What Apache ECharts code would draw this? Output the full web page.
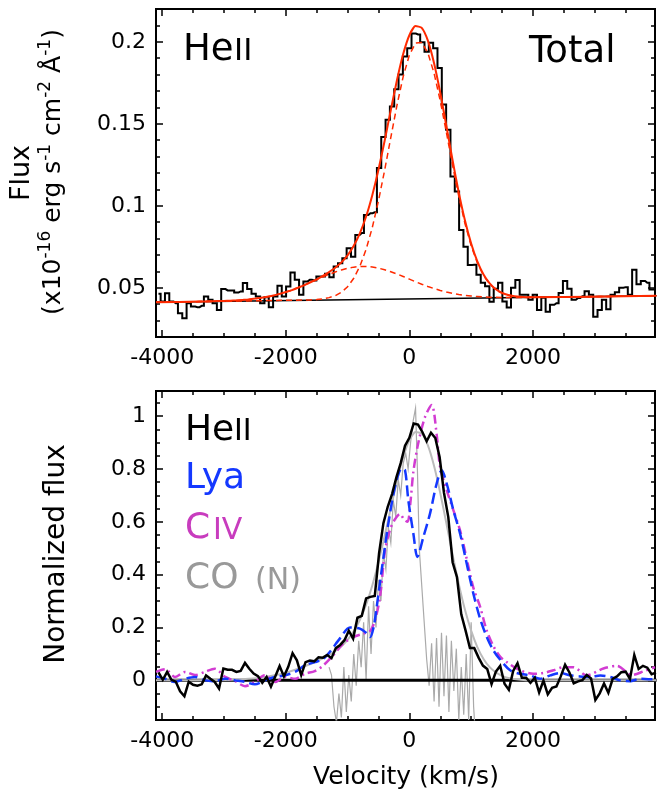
<!DOCTYPE html>
<html><head><meta charset="utf-8">
<script src="https://cdn.jsdelivr.net/npm/echarts@6/dist/echarts.min.js"></script>
<style>html,body{margin:0;padding:0;background:#fff}#c{width:657px;height:796px}</style>
</head><body><div id="c"></div>
<script>
// ---------- data (velocity in km/s) ----------
const heVel = [-4060,-3990,-3920,-3850,-3780,-3710,-3640,-3570,-3500,-3430,-3360,-3290,-3220,-3150,-3080,-3010,-2940,-2870,-2800,-2730,-2660,-2590,-2520,-2450,-2380,-2310,-2240,-2170,-2100,-2030,-1960,-1890,-1820,-1750,-1680,-1610,-1540,-1470,-1400,-1330,-1260,-1190,-1120,-1050,-980,-910,-840,-770,-700,-630,-560,-490,-420,-350,-280,-210,-140,-70,0,70,140,210,280,350,420,490,560,630,700,770,840,910,980,1050,1120,1190,1260,1330,1400,1470,1540,1610,1680,1750,1820,1890,1960,2030,2100,2170,2240,2310,2380,2450,2520,2590,2660,2730,2800,2870,2940,3010,3080,3150,3220,3290,3360,3430,3500,3570,3640,3710,3780,3850,3920,3990];
const heFlux = [0.0463,0.0416,0.0467,0.0416,0.0406,0.0345,0.0315,0.0406,0.0386,0.0382,
0.0390,0.0447,0.0427,0.0406,0.0365,0.0492,0.0484,0.0484,0.0471,0.0478,
0.0529,0.0492,0.0463,0.0447,0.0406,0.0443,0.0382,0.0447,0.0512,0.0447,
0.0508,0.0594,0.0549,0.0457,0.0539,0.0549,0.0545,0.0569,0.0569,0.0586,
0.0565,0.0630,0.0650,0.0680,0.0741,0.0690,0.0822,0.0834,0.0944,0.0955,
0.0960,0.1230,0.1420,0.1525,0.1605,0.1710,0.1800,0.1910,0.1960,0.2050,
0.2045,0.1998,0.1940,0.1994,0.1960,0.1840,0.1617,0.1464,0.1179,0.1087,
0.0853,0.0750,0.0639,0.0640,0.0580,0.0531,0.0510,0.0415,0.0494,0.0531,
0.0417,0.0380,0.0500,0.0548,0.0458,0.0458,0.0427,0.0458,0.0365,0.0440,
0.0354,0.0396,0.0406,0.0469,0.0542,0.0494,0.0427,0.0438,0.0448,0.0479,
0.0458,0.0323,0.0365,0.0427,0.0369,0.0458,0.0473,0.0500,0.0504,0.0458,
0.0610,0.0521,0.0542,0.0531,0.0490,0.0500];
const heNorm = [0.030,0.002,0.032,0.002,-0.005,-0.041,-0.060,-0.005,-0.017,-0.020,
-0.015,0.019,0.006,-0.006,-0.031,0.045,0.040,0.040,0.032,0.036,
0.066,0.044,0.026,0.016,-0.009,0.013,-0.024,0.015,0.054,0.015,
0.051,0.103,0.076,0.020,0.069,0.075,0.072,0.087,0.086,0.096,
0.084,0.122,0.134,0.152,0.188,0.158,0.237,0.244,0.310,0.316,
0.319,0.481,0.595,0.657,0.705,0.768,0.822,0.888,0.918,0.972,
0.968,0.940,0.905,0.937,0.917,0.844,0.710,0.618,0.447,0.391,
0.250,0.188,0.122,0.122,0.086,0.056,0.043,-0.014,0.033,0.055,
-0.013,-0.036,0.036,0.065,0.010,0.010,-0.009,0.010,-0.046,-0.001,
-0.053,-0.028,-0.023,0.015,0.059,0.030,-0.011,-0.004,0.001,0.020,
0.007,-0.074,-0.049,-0.012,-0.047,0.006,0.015,0.031,0.033,0.005,
0.096,0.043,0.055,0.048,0.023,0.029];

const contVel = [-4100, 4000];
const contFlux = [0.0412, 0.0451];

const narrowVel = [-4100,-1600,-1500,-1400,-1300,-1200,-1100,-1000,-900,-800,-700,-600,-500,-400,-300,-200,-100,0,100,200,300,400,500,600,700,800,900,1000,1100,1200,1300,1400,1500,1600,1700,1800,1900,2000,4000];
const narrowFlux = [0.0412,0.0426,0.0428,0.0432,0.0440,0.0452,0.0473,0.0506,0.0558,0.0632,0.0734,0.0867,0.1030,0.1217,0.1417,0.1614,0.1788,0.1919,0.1992,0.1996,0.1932,0.1808,0.1640,0.1446,0.1246,0.1057,0.0892,0.0756,0.0652,0.0575,0.0523,0.0488,0.0467,0.0455,0.0448,0.0444,0.0443,0.0442,0.0451];

const broadVel = [-4100,-3400,-3200,-3000,-2900,-2800,-2700,-2600,-2500,-2400,-2300,-2200,-2100,-2000,-1900,-1800,-1700,-1600,-1500,-1400,-1300,-1200,-1100,-1000,-900,-800,-700,-600,-500,-400,-300,-200,-100,0,100,200,300,400,500,600,700,800,900,1000,1100,1200,1300,1400,1600,1800,4000];
const broadFlux = [0.0412,0.0416,0.0418,0.0420,0.0421,0.0423,0.0426,0.0429,0.0434,0.0439,0.0445,0.0453,0.0463,0.0474,0.0486,0.0501,0.0516,0.0532,0.0549,0.0566,0.0582,0.0596,0.0609,0.0619,0.0626,0.0630,0.0630,0.0627,0.0620,0.0610,0.0598,0.0584,0.0569,0.0553,0.0537,0.0522,0.0508,0.0495,0.0484,0.0474,0.0466,0.0459,0.0454,0.0450,0.0447,0.0444,0.0443,0.0442,0.0441,0.0441,0.0451];

const totalVel = [-4100,-3400,-3200,-3000,-2900,-2800,-2700,-2600,-2500,-2400,-2300,-2200,-2100,-2000,-1900,-1800,-1700,-1600,-1500,-1400,-1300,-1200,-1100,-1000,-900,-800,-700,-600,-500,-400,-300,-200,-100,0,100,200,300,400,500,600,700,800,900,1000,1100,1200,1300,1400,1500,1600,1700,1800,1900,2000,4000];
const totalFlux = [0.0412,0.0416,0.0418,0.0420,0.0421,0.0423,0.0426,0.0429,0.0434,0.0439,0.0445,0.0453,0.0463,0.0474,0.0486,0.0501,0.0516,0.0534,0.0552,0.0573,0.0596,0.0622,0.0655,0.0698,0.0756,0.0834,0.0935,0.1065,0.1220,0.1397,0.1584,0.1767,0.1925,0.2040,0.2096,0.2085,0.2007,0.1869,0.1689,0.1485,0.1276,0.1080,0.0910,0.0770,0.0661,0.0581,0.0527,0.0491,0.0469,0.0456,0.0449,0.0445,0.0443,0.0442,0.0451];

const fitNormVel = [-4100,-3000,-2800,-2600,-2400,-2200,-2000,-1800,-1600,-1500,-1400,-1300,-1200,-1100,-1000,-900,-800,-700,-600,-500,-400,-300,-200,-100,0,100,200,300,400,500,600,700,800,900,1000,1100,1200,1300,1400,1500,1600,1800,2000,4000];
const fitNorm = [0,0.001,0.003,0.006,0.010,0.018,0.029,0.044,0.062,0.072,0.083,0.096,0.111,0.129,0.153,0.186,0.229,0.286,0.359,0.447,0.546,0.652,0.755,0.844,0.908,0.940,0.934,0.889,0.811,0.709,0.593,0.475,0.364,0.267,0.188,0.126,0.081,0.050,0.030,0.017,0.009,0.002,0,0];

const lyaVel = [-4100,-3950,-3800,-3630,-3470,-3300,-3150,-2980,-2820,-2660,-2500,-2340,-2170,-2010,-1850,-1690,-1530,-1400,-1280,-1120,-960,-800,-700,-636,-580,-528,-448,-340,-232,-124,-70,-16,65,129,227,334,442,523,604,712,820,928,1036,1143,1251,1359,1467,1630,1790,1950,2115,2280,2440,2600,2760,2920,3090,3250,3410,3570,3730,3900,3975];
const lyaNorm = [0.015,0.006,-0.006,0.006,0.013,0.0,-0.003,0.006,0.0,-0.006,-0.015,0.0,0.013,0.019,0.032,0.057,0.069,0.080,0.110,0.160,0.200,0.196,0.180,0.164,0.200,0.278,0.417,0.593,0.732,0.802,0.795,0.680,0.555,0.467,0.543,0.631,0.745,0.795,0.745,0.644,0.556,0.442,0.328,0.235,0.165,0.114,0.079,0.038,0.025,0.019,0.006,0.019,0.028,0.019,0.015,0.013,0.018,0.013,0.0,-0.003,0.006,0.004,0.005];

const civVel = [-4100,-3950,-3790,-3630,-3470,-3310,-3150,-2980,-2820,-2660,-2500,-2340,-2170,-2010,-1850,-1690,-1530,-1400,-1250,-1070,-906,-744,-640,-556,-475,-394,-313,-232,-151,-90,-30,20,65,146,254,361,442,497,604,712,820,928,1036,1143,1251,1359,1468,1576,1792,2005,2168,2330,2492,2654,2870,3140,3360,3600,3800,3975];
const civNorm = [0.032,0.042,0.013,0.032,0.020,0.032,0.044,0.013,-0.003,-0.022,-0.006,0.019,-0.006,0.013,0.006,0.025,0.035,0.055,0.090,0.139,0.164,0.177,0.185,0.227,0.316,0.490,0.570,0.610,0.630,0.610,0.600,0.680,0.790,0.900,0.997,1.042,0.930,0.808,0.720,0.644,0.568,0.460,0.350,0.280,0.189,0.130,0.090,0.069,0.038,0.025,0.028,0.038,0.050,0.050,0.019,0.045,0.055,0.020,0.035,0.050];

const coVel = [-1300,-1260,-1220,-1180,-1140,-1100,-1060,-1020,-980,-940,-900,-860,-820,-780,-740,-700,-660,-620,-580,-540,-500,-460,-420,-380,-340,-300,-260,-220,-180,-140,-100,-60,-20,20,60,100,130,160,200,240,280,320,360,400,440,480,520,560,600,640,680,720,760,800,840,880,920,960,1000,1040,1080];
const coNorm = [0.05,0.02,-0.10,-0.16,-0.05,-0.14,0.05,-0.12,0.02,-0.08,0.10,-0.02,0.15,0.05,0.22,0.00,0.28,0.10,0.30,0.20,0.38,0.30,0.48,0.42,0.58,0.52,0.68,0.62,0.76,0.70,0.82,0.86,0.80,0.90,0.98,1.03,0.80,0.50,0.36,0.22,0.08,-0.02,0.14,-0.08,0.16,-0.10,0.18,-0.06,0.17,-0.12,0.15,-0.04,0.12,-0.15,0.05,-0.13,0.10,-0.15,0.22,-0.10,-0.25];

const zeroVel = [-4100, 4000];
const zeroVal = [0, 0];

const xMajorTicks = [-4000,-2000,0,2000];
const xMinorTicks = [-4000,-3500,-3000,-2500,-2000,-1500,-1000,-500,0,500,1000,1500,2000,2500,3000,3500];
const topYMajorTicks = [0.05,0.1,0.15,0.2];
const topYMinorTicks = [0.03,0.04,0.06,0.07,0.08,0.09,0.11,0.12,0.13,0.14,0.16,0.17,0.18,0.19,0.21];
const botYMajorTicks = [0,0.2,0.4,0.6,0.8,1];
const botYMinorTicks = [-0.1,-0.05,0.05,0.1,0.15,0.25,0.3,0.35,0.45,0.5,0.55,0.65,0.7,0.75,0.85,0.9,0.95,1.05];

// ---------- chart ----------
const F = 'DejaVu Sans';
const X_MIN = -4100, X_MAX = 3975;
const pairs = (xs, ys) => xs.map((x, i) => [x, ys[i]]);

function axis(grid, pos, min, max, ticks, len, labels) {
  return {
    type: 'value', gridIndex: grid, position: pos, min: min, max: max,
    axisLine: { show: true, onZero: false, lineStyle: { color: '#000', width: 2 } },
    axisTick: { show: true, inside: true, length: len, customValues: ticks, lineStyle: { color: '#000', width: 1.5 } },
    axisLabel: labels ? { show: true, customValues: labels, formatter: v => String(v), fontFamily: F, fontSize: 22, color: '#000', margin: 10 } : { show: false },
    splitLine: { show: false }, splitArea: { show: false }, animation: false
  };
}
const xAxes = [], yAxes = [];
const yr = [[0.02, 0.22, topYMajorTicks, topYMinorTicks], [-0.15, 1.095, botYMajorTicks, botYMinorTicks]];
for (let g = 0; g < 2; g++) {
  xAxes.push(axis(g, 'bottom', X_MIN, X_MAX, xMajorTicks, 7, xMajorTicks));
  xAxes.push(axis(g, 'bottom', X_MIN, X_MAX, xMinorTicks, 4, null));
  xAxes.push(axis(g, 'top', X_MIN, X_MAX, xMajorTicks, 7, null));
  xAxes.push(axis(g, 'top', X_MIN, X_MAX, xMinorTicks, 4, null));
  yAxes.push(axis(g, 'left', yr[g][0], yr[g][1], yr[g][2], 7, yr[g][2]));
  yAxes.push(axis(g, 'left', yr[g][0], yr[g][1], yr[g][3], 4, null));
  yAxes.push(axis(g, 'right', yr[g][0], yr[g][1], yr[g][2], 7, null));
  yAxes.push(axis(g, 'right', yr[g][0], yr[g][1], yr[g][3], 4, null));
}

function line(xs, ys, ai, color, width, type, z, extra) {
  return Object.assign({
    type: 'line', xAxisIndex: ai, yAxisIndex: ai, data: pairs(xs, ys),
    showSymbol: false, symbol: 'none', silent: true, animation: false, z: z,
    lineStyle: { color: color, width: width, type: type, join: 'miter' }
  }, extra || {});
}

const RED = '#ff2a00', BLUE = '#1438ff', MAG = '#d23cd2', GREY = '#aaaaaa';
const series = [
  line(contVel, contFlux, 0, '#000', 1.5, 'solid', 2),
  line(heVel, heFlux, 0, '#000', 2, 'solid', 3, { step: 'middle' }),
  line(broadVel, broadFlux, 0, RED, 1.5, [6, 4], 4),
  line(narrowVel, narrowFlux, 0, RED, 1.5, [6, 4], 4),
  line(totalVel, totalFlux, 0, RED, 2, 'solid', 5, { smooth: 0.2 }),

  line(coVel, coNorm, 4, GREY, 1.2, 'solid', 2),
  line(zeroVel, zeroVal, 4, '#000', 3, 'solid', 3),
  line(fitNormVel, fitNorm, 4, '#bbbbbb', 2, 'solid', 3, { smooth: 0.2 }),
  line(civVel, civNorm, 4, MAG, 2.5, [9, 4, 2, 4], 4, { smooth: 0.3 }),
  line(lyaVel, lyaNorm, 4, BLUE, 2.5, [11, 5], 5, { smooth: 0.3 }),
  line(heVel, heNorm, 4, '#000', 2.5, 'solid', 6)
];

function txt(s, x, y, size, color) {
  return { type: 'text', x: x, y: y, silent: true, z: 100,
    style: { text: s, fontFamily: F, fontSize: size, fill: color, align: 'left', verticalAlign: 'middle' } };
}
// baseline b -> middle y
const mid = (b, s) => b - 0.346 * s;
const graphic = [
  txt('He', 183, mid(63, 37), 37, '#000'),
  txt('II', 234, mid(63, 31), 31, '#000'),
  txt('Total', 529, mid(65, 37), 37, '#000'),
  txt('He', 185, mid(443, 36), 36, '#000'),
  txt('II', 234, mid(443, 30), 30, '#000'),
  txt('Lya', 185, mid(491.5, 36), 36, BLUE),
  txt('C', 185, mid(541.5, 36), 36, '#c83cbe'),
  txt('IV', 213, mid(541.5, 30), 30, '#c83cbe'),
  txt('CO', 185, mid(591.5, 36), 36, '#999999'),
  txt('(N)', 255, mid(591.5, 30), 30, '#999999'),
  { type: 'text', x: 22, y: 173, rotation: Math.PI / 2, silent: true, z: 100,
    style: { text: 'Flux', fontFamily: F, fontSize: 27, fill: '#000', align: 'center', verticalAlign: 'middle' } },
  { type: 'text', x: 53, y: 172, rotation: Math.PI / 2, silent: true, z: 100,
    style: { text: '(x10{s|-16} erg s{s|-1} cm{s|-2} Å{s|-1})', fontFamily: F, fontSize: 25, lineHeight: 32, fill: '#000', align: 'center', verticalAlign: 'middle',
      rich: { s: { fontFamily: F, fontSize: 17, lineHeight: 17, fill: '#000', verticalAlign: 'top' } } } },
  { type: 'text', x: 57, y: 554, rotation: Math.PI / 2, silent: true, z: 100,
    style: { text: 'Normalized flux', fontFamily: F, fontSize: 28, fill: '#000', align: 'center', verticalAlign: 'middle' } },
  { type: 'text', x: 406, y: 777, silent: true, z: 100,
    style: { text: 'Velocity (km/s)', fontFamily: F, fontSize: 25, fill: '#000', align: 'center', verticalAlign: 'middle' } }
];

const chart = echarts.init(document.getElementById('c'), null, { renderer: 'canvas', width: 657, height: 796 });
chart.setOption({
  animation: false,
  backgroundColor: '#fff',
  grid: [
    { left: 156, top: 9, width: 499, height: 328, containLabel: false },
    { left: 156, top: 391, width: 499, height: 329, containLabel: false }
  ],
  xAxis: xAxes,
  yAxis: yAxes,
  series: series,
  graphic: graphic
});
</script>
</body></html>
